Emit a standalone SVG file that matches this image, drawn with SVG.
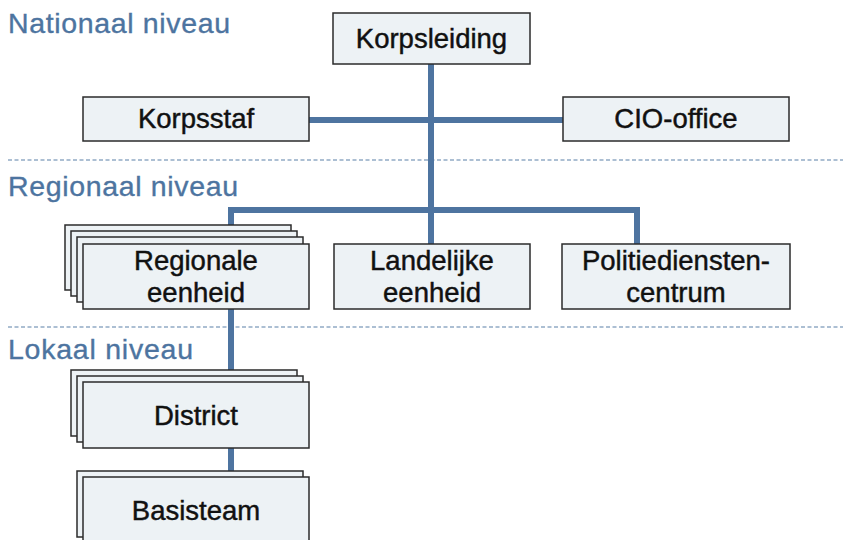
<svg xmlns="http://www.w3.org/2000/svg" width="843" height="540" viewBox="0 0 843 540">
<style>
.bg{fill:#ffffff}
.box{fill:#edf2f5;stroke:#2b2b2b;stroke-width:1.5}
.t{font-family:"Liberation Sans",Arial,Helvetica,sans-serif;font-size:27.5px;fill:#111111;stroke:#111111;stroke-width:0.45;text-anchor:middle}
.lvl{font-family:"Liberation Sans",Arial,Helvetica,sans-serif;font-size:28.5px;fill:#4d74a0;stroke:#4d74a0;stroke-width:0.35}
.conn{fill:none;stroke:#4e74a0;stroke-width:6;stroke-linejoin:miter}
.sep{stroke:#5b80a8;stroke-width:1.2;stroke-dasharray:4 2.5;fill:none}
</style>
<rect class="bg" x="0" y="0" width="843" height="540"/>
<g id="separators">
<line class="sep" x1="8" y1="160" x2="843" y2="160"/>
<line class="sep" x1="8" y1="327" x2="843" y2="327"/>
</g>
<g id="level-labels">
<text class="lvl" x="8" y="33" textLength="222" lengthAdjust="spacing">Nationaal niveau</text>
<text class="lvl" x="8" y="196" textLength="230" lengthAdjust="spacing">Regionaal niveau</text>
<text class="lvl" x="8" y="359" textLength="185" lengthAdjust="spacing">Lokaal niveau</text>
</g>
<g id="connectors">
<line class="conn" x1="431" y1="64" x2="431" y2="244"/>
<line class="conn" x1="309" y1="120" x2="563" y2="120"/>
<polyline class="conn" points="231,244 231,210 637,210 637,244"/>
<line class="conn" x1="231" y1="240" x2="231" y2="477"/>
</g>
<g id="korpsleiding">
<rect class="box" x="333" y="13" width="197" height="51"/>
<text class="t" x="431.5" y="48">Korpsleiding</text>
</g>
<g id="korpsstaf">
<rect class="box" x="83" y="97" width="226" height="44"/>
<text class="t" x="196" y="128">Korpsstaf</text>
</g>
<g id="cio-office">
<rect class="box" x="563" y="97" width="226" height="44"/>
<text class="t" x="676" y="128">CIO-office</text>
</g>
<g id="regionale-eenheid">
<rect class="box" x="65" y="225" width="226" height="65"/>
<rect class="box" x="71" y="231" width="226" height="65"/>
<rect class="box" x="77" y="237" width="226" height="65"/>
<rect class="box" x="83" y="244" width="226" height="65"/>
<text class="t" x="196" y="270">Regionale</text>
<text class="t" x="196" y="302">eenheid</text>
</g>
<g id="landelijke-eenheid">
<rect class="box" x="334" y="244" width="196" height="65"/>
<text class="t" x="432" y="270">Landelijke</text>
<text class="t" x="432" y="302">eenheid</text>
</g>
<g id="politiedienstencentrum">
<rect class="box" x="562" y="244" width="228" height="65"/>
<text class="t" x="676" y="270">Politiediensten-</text>
<text class="t" x="676" y="302">centrum</text>
</g>
<g id="district">
<rect class="box" x="71" y="370" width="226" height="66"/>
<rect class="box" x="77" y="376" width="226" height="66"/>
<rect class="box" x="83" y="382" width="226" height="66"/>
<text class="t" x="196" y="425">District</text>
</g>
<g id="basisteam">
<rect class="box" x="77" y="471" width="226" height="66"/>
<rect class="box" x="83" y="477" width="226" height="66"/>
<text class="t" x="196" y="520">Basisteam</text>
</g>
</svg>
